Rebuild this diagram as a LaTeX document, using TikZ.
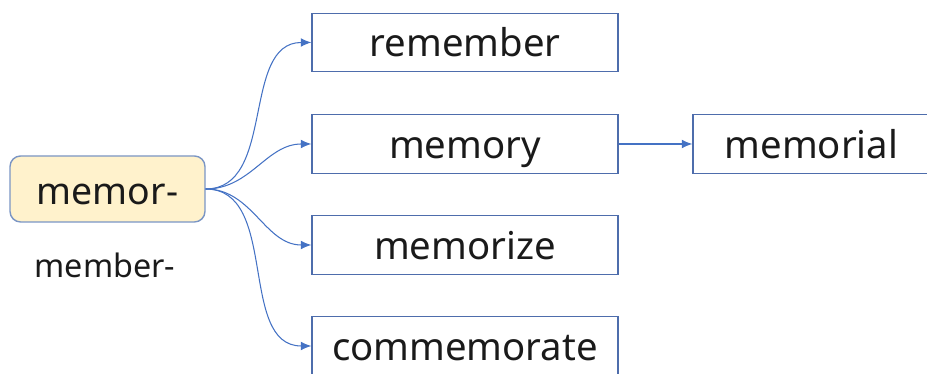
\documentclass[tikz,border=0pt]{standalone}
\usepackage{fontspec}
\setmainfont{Noto Sans}
\usetikzlibrary{positioning,arrows.meta}
\definecolor{ink}{HTML}{1A1A1A}
\definecolor{boxline}{HTML}{4E6DAC}
\definecolor{linkblue}{HTML}{4472C4}
\definecolor{rootfill}{HTML}{FFF2CC}
\definecolor{rootline}{HTML}{7A95C4}
\tikzset{
  wordbox/.style={draw=boxline,line width=0.8pt,minimum width=6.12cm,minimum height=1.17cm,
    inner sep=0pt,text=ink,font=\fontsize{21.8}{26}\selectfont,text height=20pt,text depth=4pt},
  link/.style={draw=linkblue,line width=0.6pt,-{Latex[length=6pt,width=5pt]}}
}
\begin{document}
\begin{tikzpicture}[x=0.02cm,y=0.02cm]
        \useasboundingbox (0,0) rectangle (927,374);
        \node[draw=rootline,fill=rootfill,line width=0.8pt,rounded corners=6pt,minimum width=3.9cm,minimum height=1.32cm,
          inner sep=0pt,text=ink,font=\fontsize{21.3}{26}\selectfont,text height=21pt,text depth=3pt] (root) at (107.5,185) {memor-};
        \node[text=ink,font=\fontsize{18.4}{22}\selectfont] (alt) at (105,109) {member-};
        \node[wordbox] (remember) at (465,331.5) {remember};
        \node[wordbox] (memory) at (465,230) {memory};
        \node[wordbox] (memorize) at (465,129) {memorize};
        \node[wordbox] (commemorate) at (465,28) {commemorate};
        \node[wordbox,minimum width=4.74cm] (memorial) at (811.5,230) {memorial};
        \draw[link] (root.east) to[out=0,in=180] (remember.west);
        \draw[link] (root.east) to[out=0,in=180] (memory.west);
        \draw[link] (root.east) to[out=0,in=180] (memorize.west);
        \draw[link] (root.east) to[out=0,in=180] (commemorate.west);
        \draw[link] (memory.east) -- (memorial.west);
      \end{tikzpicture}
\end{document}
